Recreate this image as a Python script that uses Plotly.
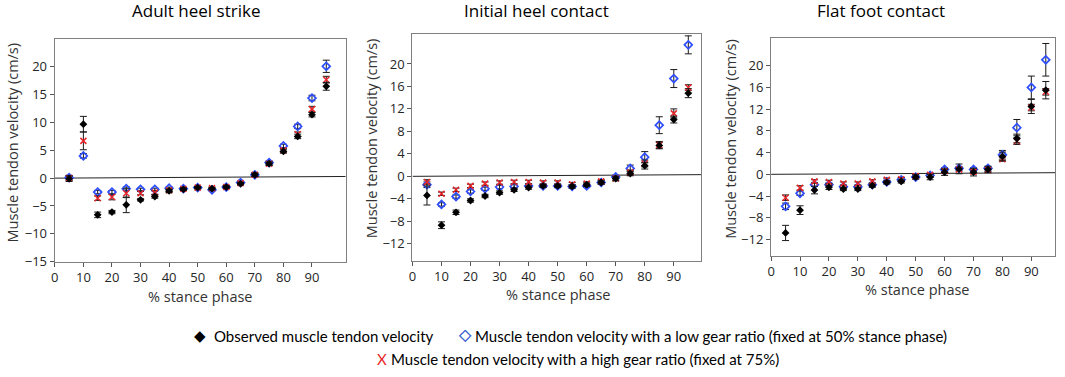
import plotly.graph_objects as go

stance = [5, 10, 15, 20, 25, 30, 35, 40, 45, 50, 55, 60, 65, 70, 75, 80, 85, 90, 95]

titles = ["Adult heel strike", "Initial heel contact", "Flat foot contact"]

# Panel 1: Adult heel strike
ahs_obs = [-0.1, 9.7, -6.6, -6.1, -4.8, -3.9, -3.3, -2.3, -2.0, -1.7, -1.9, -1.6, -1.0, 0.6, 2.6, 4.8, 7.5, 11.4, 16.5]
ahs_obs_err = [0.5, 1.4, 0.5, 0.3, 1.4, 0.2, 0.3, 0.3, 0.2, 0.2, 0.2, 0.2, 0.2, 0.3, 0.3, 0.3, 0.4, 0.4, 0.7]
ahs_low = [0.1, 4.0, -2.5, -2.5, -1.9, -2.0, -2.0, -1.8, -1.9, -1.7, -2.1, -1.6, -0.8, 0.6, 2.8, 5.8, 9.3, 14.4, 20.1]
ahs_low_err = [0.4, 0.4, 0.3, 0.3, 0.3, 0.2, 0.2, 0.2, 0.2, 0.2, 0.2, 0.2, 0.2, 0.3, 0.3, 0.3, 0.4, 0.5, 1.1]
ahs_high = [0.0, 6.7, -3.6, -3.4, -2.7, -2.7, -2.6, -2.2, -1.9, -1.7, -1.8, -1.6, -0.9, 0.6, 2.6, 5.0, 7.9, 12.4, 17.7]
ahs_high_err = [0.4, 1.6, 0.4, 0.5, 0.8, 0.3, 0.3, 0.2, 0.2, 0.2, 0.2, 0.2, 0.2, 0.3, 0.3, 0.3, 0.4, 0.5, 0.6]

# Panel 2: Initial heel contact
ihc_obs = [-3.4, -8.7, -6.4, -4.3, -3.5, -2.9, -2.4, -2.0, -1.7, -1.7, -1.8, -1.5, -1.1, -0.4, 0.5, 1.9, 5.5, 10.1, 14.8]
ihc_obs_err = [1.7, 0.6, 0.4, 0.3, 0.3, 0.3, 0.3, 0.3, 0.3, 0.3, 0.3, 0.3, 0.3, 0.4, 0.4, 0.6, 0.6, 0.6, 0.8]
ihc_low = [-1.5, -5.0, -3.6, -2.7, -2.2, -1.9, -1.8, -1.7, -1.7, -1.7, -1.8, -1.7, -1.1, -0.1, 1.4, 3.4, 9.1, 17.4, 23.4]
ihc_low_err = [0.5, 0.3, 0.3, 0.3, 0.3, 0.3, 0.3, 0.3, 0.3, 0.3, 0.3, 0.3, 0.3, 0.3, 0.6, 1.0, 1.5, 1.6, 1.6]
ihc_high = [-1.0, -3.1, -2.4, -1.7, -1.3, -1.1, -1.0, -1.0, -1.1, -1.1, -1.4, -1.3, -0.9, -0.4, 0.7, 2.3, 5.6, 11.2, 15.8]
ihc_high_err = [0.4, 0.3, 0.3, 0.3, 0.3, 0.3, 0.3, 0.3, 0.3, 0.3, 0.3, 0.3, 0.3, 0.3, 0.4, 0.6, 0.6, 0.8, 0.5]

# Panel 3: Flat foot contact
ffc_obs = [-10.8, -6.6, -2.9, -2.4, -2.7, -2.7, -2.1, -1.5, -1.3, -0.5, -0.5, 0.4, 1.0, 0.4, 0.9, 3.3, 6.6, 12.5, 15.5]
ffc_obs_err = [1.4, 0.8, 0.7, 0.4, 0.3, 0.3, 0.3, 0.3, 0.3, 0.4, 0.5, 0.6, 0.9, 0.7, 0.6, 0.8, 0.8, 1.3, 1.6]
ffc_low = [-5.9, -3.5, -1.9, -1.9, -2.3, -2.3, -1.9, -1.4, -1.0, -0.5, -0.2, 0.9, 1.1, 0.9, 1.1, 3.6, 8.6, 16.0, 21.1]
ffc_low_err = [0.6, 0.4, 0.3, 0.3, 0.3, 0.3, 0.3, 0.3, 0.3, 0.3, 0.3, 0.3, 0.3, 0.3, 0.3, 0.8, 1.5, 2.1, 3.0]
ffc_high = [-4.3, -2.5, -1.3, -1.4, -1.7, -1.7, -1.3, -1.0, -0.9, -0.3, -0.1, 0.6, 0.9, 0.5, 0.8, 2.8, 6.1, 12.3, 15.2]
ffc_high_err = [0.5, 0.4, 0.3, 0.3, 0.3, 0.3, 0.3, 0.3, 0.3, 0.3, 0.3, 0.3, 0.3, 0.3, 0.3, 0.4, 0.6, 0.6, 0.6]

y_ticks_1 = [-15, -10, -5, 0, 5, 10, 15, 20]
y_ticks_23 = [-12, -8, -4, 0, 4, 8, 12, 16, 20]
x_ticks = [0, 10, 20, 30, 40, 50, 60, 70, 80, 90]

legend_obs = "Observed muscle tendon velocity"
legend_low = "Muscle tendon velocity with a low gear ratio (fixed at 50% stance phase)"
legend_high = "Muscle tendon velocity with a high gear ratio (fixed at 75%)"

panels = [
    (ahs_obs, ahs_obs_err, ahs_low, ahs_low_err, ahs_high, ahs_high_err),
    (ihc_obs, ihc_obs_err, ihc_low, ihc_low_err, ihc_high, ihc_high_err),
    (ffc_obs, ffc_obs_err, ffc_low, ffc_low_err, ffc_high, ffc_high_err),
]

W, H = 1065, 377
# pixel boxes (left, right, top, bottom)
boxes = [(51, 343, 40, 268), (410, 700, 35, 267), (770, 1055, 39, 262)]
x_ranges = [[0, 101.8], [0, 99.5], [0, 98.2]]
y_ranges = [[-15, 25], [-15, 25.3], [-15, 25.1]]
y_ticks = [y_ticks_1, y_ticks_23, y_ticks_23]
ytitle_pos = [(9, 146), (369, 142), (729, 142)]
xtitle_pos = [(197, 304), (557, 302), (917, 297)]
title_pos = [(193, 11), (535, 11), (880, 11)]

fig = go.Figure()
err_style = dict(type="data", color="#1a1a1a", thickness=1, width=3.5)

for i, (obs, obs_e, low, low_e, high, high_e) in enumerate(panels):
    xa = "x" if i == 0 else f"x{i+1}"
    ya = "y" if i == 0 else f"y{i+1}"
    fig.add_trace(go.Scatter(
        x=stance, y=low, mode="markers", xaxis=xa, yaxis=ya, showlegend=False,
        error_y=dict(array=low_e, **err_style),
        marker=dict(symbol="diamond-open", size=6, color="#2f4fff", line=dict(width=1.7, color="#2f4fff"))))
    fig.add_trace(go.Scatter(
        x=stance, y=high, mode="markers", xaxis=xa, yaxis=ya, showlegend=False,
        error_y=dict(array=high_e, **err_style),
        marker=dict(symbol="x-thin-open", size=6, color="#e8262a", line=dict(width=1.5, color="#e8262a"))))
    fig.add_trace(go.Scatter(
        x=stance, y=obs, mode="markers", xaxis=xa, yaxis=ya, showlegend=False,
        error_y=dict(array=obs_e, **err_style),
        marker=dict(symbol="diamond", size=6, color="black")))

    l, r, t, b = boxes[i]
    axis_common = dict(
        showgrid=False, zeroline=False, showline=True, linecolor="#7f7f7f", linewidth=1.3,
        mirror=True, ticks="outside", ticklen=4, tickcolor="#555555", tickwidth=1,
        tickfont=dict(family="Open Sans", size=13, color="#262626"))
    fig.layout[("xaxis" if i == 0 else f"xaxis{i+1}")] = dict(
        domain=[l / W, r / W], range=x_ranges[i], tickvals=x_ticks,
        anchor=ya, **axis_common)
    fig.layout[("yaxis" if i == 0 else f"yaxis{i+1}")] = dict(
        domain=[1 - b / H, 1 - t / H], range=y_ranges[i], tickvals=y_ticks[i],
        anchor=xa, **axis_common)

    # zero reference line (slightly tilted as in the original)
    fig.add_shape(type="line", xref=xa, yref=ya, x0=0, y0=0, x1=x_ranges[i][1], y1=0.3,
                  line=dict(color="#222222", width=1), layer="below")

    fig.add_annotation(text="Muscle tendon velocity (cm/s)", textangle=-90,
                       x=ytitle_pos[i][0] / W, y=1 - ytitle_pos[i][1] / H,
                       xref="paper", yref="paper", showarrow=False,
                       xanchor="center", yanchor="middle",
                       font=dict(family="Open Sans", size=14.5, color="#333333"))
    fig.add_annotation(text="% stance phase",
                       x=xtitle_pos[i][0] / W, y=1 - xtitle_pos[i][1] / H,
                       xref="paper", yref="paper", showarrow=False,
                       xanchor="center", yanchor="middle",
                       font=dict(family="Open Sans", size=14.5, color="#333333"))
    fig.add_annotation(text=titles[i],
                       x=title_pos[i][0] / W, y=1 - title_pos[i][1] / H,
                       xref="paper", yref="paper", showarrow=False,
                       xanchor="center", yanchor="middle",
                       font=dict(family="Open Sans", size=17, color="black"))

# custom legend (glyphs and texts placed separately)
leg_font = dict(family="Lato", size=15, color="black")
fig.add_annotation(text="◆", x=196.5 / W, y=1 - 344 / H, xref="paper", yref="paper",
                   showarrow=False, xanchor="center", yanchor="middle",
                   font=dict(family="DejaVu Sans", size=15, color="black"))
fig.add_annotation(text=legend_obs, x=209 / W, y=1 - 344 / H, xref="paper", yref="paper",
                   showarrow=False, xanchor="left", yanchor="middle", font=leg_font)
fig.add_annotation(text="<b>◇</b>", x=463 / W, y=1 - 343 / H, xref="paper", yref="paper",
                   showarrow=False, xanchor="center", yanchor="middle",
                   font=dict(family="DejaVu Sans", size=16, color="#3a5fd0"))
fig.add_annotation(text="<b>◇</b>", x=463.6 / W, y=1 - 343 / H, xref="paper", yref="paper",
                   showarrow=False, xanchor="center", yanchor="middle",
                   font=dict(family="DejaVu Sans", size=16, color="#3a5fd0"))
fig.add_annotation(text=legend_low, x=471 / W, y=1 - 344 / H, xref="paper", yref="paper",
                   showarrow=False, xanchor="left", yanchor="middle", font=leg_font)
fig.add_annotation(text="X", x=379.5 / W, y=1 - 368 / H, xref="paper", yref="paper",
                   showarrow=False, xanchor="center", yanchor="middle",
                   font=dict(family="Lato", size=15, color="#e8262a"))
fig.add_annotation(text=legend_high, x=386 / W, y=1 - 368 / H, xref="paper", yref="paper",
                   showarrow=False, xanchor="left", yanchor="middle", font=leg_font)

fig.update_layout(width=W, height=H, margin=dict(l=0, r=0, t=0, b=0),
                  paper_bgcolor="white", plot_bgcolor="white", showlegend=False)

fig.write_html("out.html", config={"displayModeBar": False},
               post_script="document.body.style.margin='0';")
